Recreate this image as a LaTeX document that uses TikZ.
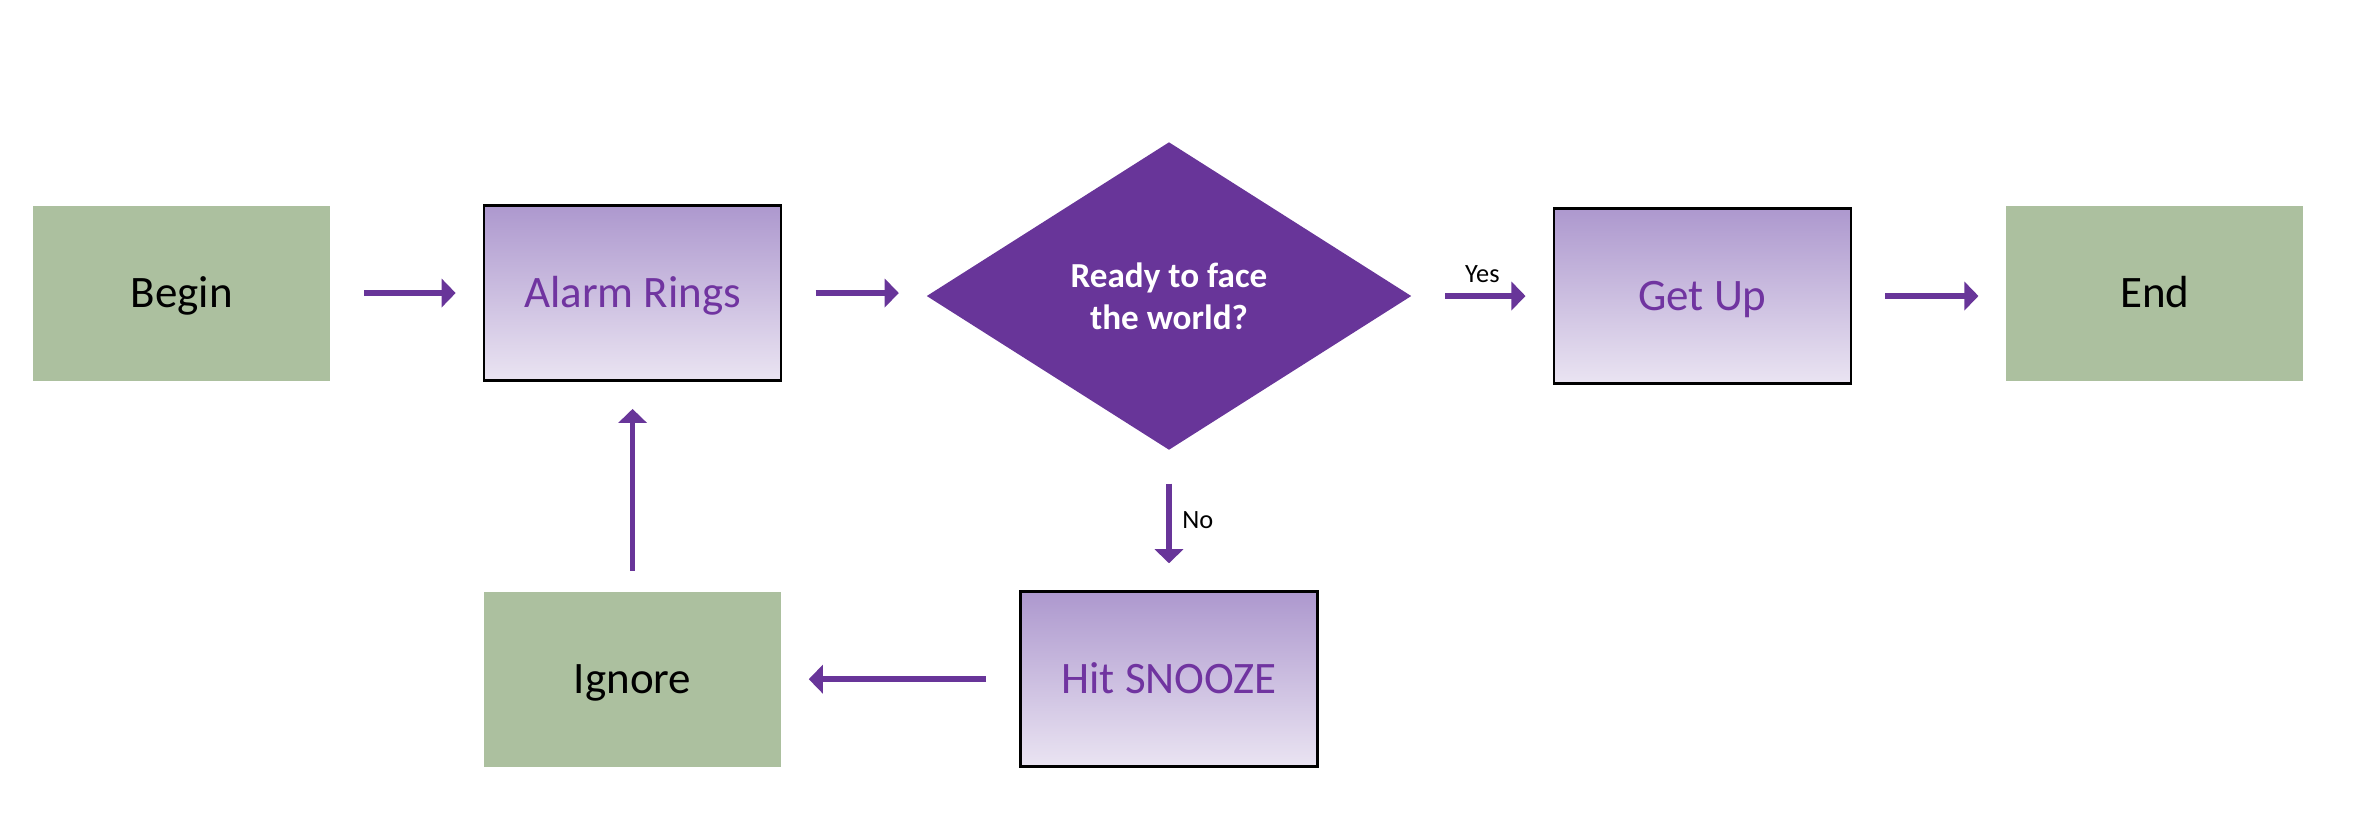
\documentclass[tikz,border=0pt]{standalone}
\usepackage{fontspec}
\setmainfont{Carlito}
\usetikzlibrary{shapes.geometric,arrows.meta}

\definecolor{sage}{RGB}{172,192,159}
\definecolor{plum}{RGB}{104,53,153}
\definecolor{lilactop}{RGB}{173,152,206}
\definecolor{lilacbot}{RGB}{234,228,242}
\definecolor{plumtext}{RGB}{112,52,160}

\tikzstyle{cgreen}=[rectangle, fill=sage, minimum width=29.7mm, minimum height=17.5mm, text height=8.2pt, text depth=0pt, font=\fontsize{12.8}{15}\selectfont]
\tikzstyle{clilac}=[rectangle, draw=black, line width=0.8pt, top color=lilactop, bottom color=lilacbot, text=plumtext, minimum width=29.7mm, minimum height=17.5mm, text height=8.2pt, text depth=0pt, font=\fontsize{12.8}{15}\selectfont]
\tikzstyle{cdec}=[diamond, fill=plum, text=white, aspect=1.58, inner sep=0pt, minimum width=48.5mm, minimum height=30.8mm, align=center, font=\bfseries\fontsize{10}{12}\selectfont]
\tikzstyle{flow}=[draw=plum, line width=1.6pt, -{Triangle[length=4pt,width=8pt]}, shorten <=3.3mm, shorten >=2.7mm]
\tikzstyle{lab}=[font=\fontsize{7.5}{9}\selectfont, inner sep=3pt]

\begin{document}
\begin{tikzpicture}[x=0.15026mm, y=-0.15026mm]

\useasboundingbox (0,0) rectangle (1568,556.4);

\node[cgreen] (n1) at (121,195) {Begin};
\node[clilac] (n2) at (421,195) {Alarm Rings};
\node[cdec] (n3) at (778,197) {Ready to face\\the world?};
\node[clilac] (n4) at (1133,197) {Get Up};
\node[cgreen] (n5) at (1434,195) {End};
\node[clilac] (n6) at (778,452) {Hit SNOOZE};
\node[cgreen] (n7) at (421,452) {Ignore};

\draw[flow] (n1) -- (n2);
\draw[flow] (n2.east) -- (n3.west |- n2.east);
\draw[flow] (n3) -- (n4) node[midway, above, lab] {Yes};
\draw[flow] (n4.east) -- (n5.west |- n4.east);
\draw[flow] (n3) -- (n6) node[midway, right, lab] {No};
\draw[flow] (n6) -- (n7);
\draw[flow, shorten <=2mm] (n7) -- (n2);

\end{tikzpicture}
\end{document}
